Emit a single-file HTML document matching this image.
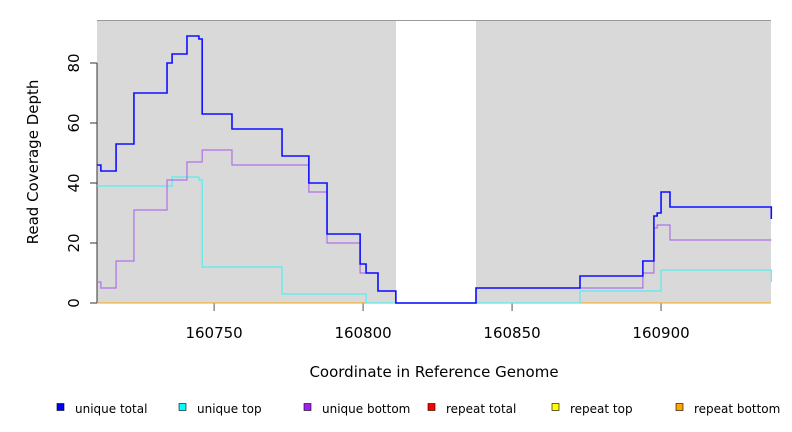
<!DOCTYPE html>
<html><head><meta charset="utf-8"><style>
body{margin:0;background:#fff;}
svg{display:block;font-family:"DejaVu Sans","Liberation Sans",sans-serif;}
</style></head><body>
<svg id="chart" width="792" height="432" viewBox="0 0 792 432">
<rect x="97" y="20" width="674" height="283" fill="#d9d9d9"/>
<rect x="396" y="21" width="80" height="282" fill="#ffffff"/>
<line x1="97" y1="20.5" x2="771" y2="20.5" stroke="#999"/>
<g id="axes"></g>
<g id="series"></g>
<text x="38" y="162" transform="rotate(-90 38 162)" text-anchor="middle" font-size="15">Read Coverage Depth</text>
<text x="434" y="377" text-anchor="middle" font-size="15">Coordinate in Reference Genome</text>
<g id="legend"></g>
</svg>
<script>
const xTicks = [160750, 160800, 160850, 160900];
const yTicks = [0, 20, 40, 60, 80];
const totalX = [160710.7,160712,160717.1,160723.1,160734.2,160735.9,160740.9,160744.9,160746,160756,160772.8,160781.8,160787.9,160799,160801,160805,160811,160837.9,160872.8,160893.9,160897.6,160898.7,160900,160903,160937];
const totalY = [46,44,53,70,80,83,89,88,63,58,49,40,23,13,10,4,0,5,9,14,29,30,37,32,28];
const bottomX = [160710.7,160712,160717.1,160723.1,160734.2,160740.9,160746,160756,160781.8,160787.9,160799,160805,160811,160837.9,160893.9,160897.6,160898.7,160903,160937];
const bottomY = [7,5,14,31,41,47,51,46,37,20,10,4,0,5,10,25,26,21,21];
const topX = [160710.7,160735.9,160744.9,160746,160772.8,160801,160872.8,160900,160937];
const topY = [39,42,41,12,3,0,4,11,7];
const legendLabels = ["unique total","unique top","unique bottom","repeat total","repeat top","repeat bottom"];
const legendColors = ["#0000ff","#00ffff","#a020f0","#ff0000","#ffff00","#ffa500"];

const NS="http://www.w3.org/2000/svg";
const X0=160710.7, X1=160936.9, PX0=97, PX1=771;
function sx(v){return PX0+(v-X0)*(PX1-PX0)/(X1-X0);}
function sy(v){return 303-v*3;}
function mk(t,a,p){const e=document.createElementNS(NS,t);for(const k in a)e.setAttribute(k,a[k]);p.appendChild(e);return e;}
const axes=document.getElementById('axes');
const ya=mk('line',{x1:97,y1:sy(80),x2:97,y2:303,stroke:'#333'},axes);


yTicks.forEach(v=>{
  const t=mk('line',{x1:90,y1:sy(v),x2:97,y2:sy(v),stroke:'#333'},axes);
  
  
  const l=mk('text',{x:74,y:sy(v),'font-size':15,'text-anchor':'middle',transform:`rotate(-90 74 ${sy(v)})`,'dominant-baseline':'central'},axes);
  l.textContent=v;
  
  
});
xTicks.forEach(v=>{
  const t=mk('line',{x1:sx(v),y1:303,x2:sx(v),y2:311,stroke:'#555'},axes);
  
  
  const l=mk('text',{x:sx(v),y:338,'font-size':15,'text-anchor':'middle'},axes);
  l.textContent=v;
  
  
});
const ser=document.getElementById('series');
function step(xs,ys,color,w,name){
  let d=`M${sx(xs[0])},${sy(ys[0])}`;
  for(let i=1;i<xs.length;i++){d+=`H${sx(xs[i])}V${sy(ys[i])}`;}
  const p=mk('path',{d:d,fill:'none',stroke:color,'stroke-width':w},ser);
  
  
}
const base=mk('line',{x1:97,y1:303,x2:771,y2:303,stroke:'#ffa500','stroke-width':1},ser);


step(topX,topY,'#55eeee',1.2,'unique-top-line');
step(bottomX,bottomY,'#b070e8',1.2,'unique-bottom-line');
step(totalX,totalY,'#1010ff',1.6,'unique-total-line');
const lg=document.getElementById('legend');
const lx=[57,179,304,428,552,676];
legendLabels.forEach((s,i)=>{
  const r=mk('rect',{x:lx[i],y:403.5,width:7,height:7,fill:legendColors[i],stroke:'#000','stroke-width':0.6},lg);
  
  
  const t=mk('text',{x:lx[i]+18,y:413,'font-size':12},lg);
  t.textContent=s;
  
  
});
</script>
</body></html>
